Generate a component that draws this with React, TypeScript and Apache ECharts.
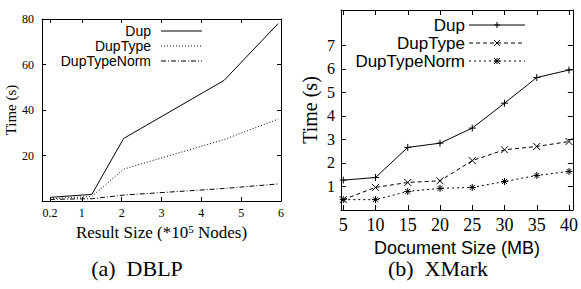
import React, { useEffect, useRef } from 'react';
import * as echarts from 'echarts';

// ---- DBLP (left panel) ----
const dblpSizes = [0.2, 1.25, 2.05, 4.57, 5.93];
const dblpDup = [1.6, 2.9, 27.5, 53, 78];
const dblpDupType = [1.0, 2.0, 14, 27, 36];
const dblpDupTypeNorm = [0.7, 1.0, 2.6, 5.5, 7.5];
const dblpXTicks = [0.2, 1, 2, 3, 4, 5, 6];

// ---- XMark (right panel) ----
const xmarkSizes = [5, 10, 15, 20, 25, 30, 35, 40];
const xmarkDup = [1.27, 1.38, 2.66, 2.84, 3.48, 4.54, 5.63, 5.95];
const xmarkDupType = [0.44, 0.96, 1.17, 1.24, 2.1, 2.56, 2.7, 2.91];
const xmarkDupTypeNorm = [0.44, 0.44, 0.79, 0.92, 0.96, 1.21, 1.47, 1.64];
const xmarkXTicks = [5, 10, 15, 20, 25, 30, 35, 40];
const xmarkYTicks = [1, 2, 3, 4, 5, 6, 7];

const seriesNames = ['Dup', 'DupType', 'DupTypeNorm'];

const SERIF = '"Liberation Serif", "Times New Roman", serif';
const SANS = '"Liberation Sans", Arial, sans-serif';
const BLACK = '#000';

const PLUS = 'path://M0,5L10,5M5,0L5,10';
const CROSS = 'path://M0,0L10,10M10,0L0,10';
const STAR = 'path://M0,5L10,5M5,0L5,10M1.5,1.5L8.5,8.5M8.5,1.5L1.5,8.5';

const pairs = (xs: number[], ys: number[]) => xs.map((x, i) => [x, ys[i]]);

const frameAxis = (extra: any) => ({
  type: 'value',
  axisLine: { show: true, onZero: false, lineStyle: { color: BLACK, width: 1 } },
  splitLine: { show: false },
  ...extra,
});

export default function App() {
  const ref = useRef<HTMLDivElement>(null);
  useEffect(() => {
    document.body.style.margin = '0';
    if (!ref.current) return;
    const chart = echarts.init(ref.current, undefined, { renderer: 'svg' });

    const lineDashes = {
      left: ['solid', [1, 2], [5, 2, 1, 2]] as any[],
      right: ['solid', [4, 3], [2, 3]] as any[],
    };
    const symbols = [PLUS, CROSS, STAR];

    const legendGraphic = (
      textRight: number,
      lineX1: number,
      lineX2: number,
      rows: number[],
      fontSize: number,
      dashes: any[],
      withMarkers: boolean
    ) => {
      const els: any[] = [];
      seriesNames.forEach((name, i) => {
        els.push({
          type: 'text',
          x: textRight,
          y: rows[i],
          style: {
            text: name,
            fontFamily: SANS,
            fontSize,
            lineHeight: fontSize,
            fill: BLACK,
            align: 'right',
            verticalAlign: 'middle',
          },
        });
        els.push({
          type: 'line',
          shape: { x1: lineX1, y1: rows[i], x2: lineX2, y2: rows[i] },
          style: {
            stroke: BLACK,
            lineWidth: 1,
            lineDash: dashes[i] === 'solid' ? null : dashes[i],
          },
        });
        if (withMarkers) {
          const cx = (lineX1 + lineX2) / 2;
          const cy = rows[i];
          const r = 3;
          const segs: number[][] = [];
          if (i === 0 || i === 2) {
            segs.push([cx - r, cy, cx + r, cy], [cx, cy - r, cx, cy + r]);
          }
          if (i === 1 || i === 2) {
            segs.push([cx - r, cy - r, cx + r, cy + r], [cx + r, cy - r, cx - r, cy + r]);
          }
          segs.forEach((s) =>
            els.push({
              type: 'line',
              shape: { x1: s[0], y1: s[1], x2: s[2], y2: s[3] },
              style: { stroke: BLACK, lineWidth: 1 },
            })
          );
        }
      });
      return els;
    };

    const option: any = {
      animation: false,
      backgroundColor: '#fff',
      grid: [
        { left: 42, top: 19, width: 239, height: 182, containLabel: false },
        { left: 341, top: 10, width: 232, height: 200, containLabel: false },
      ],
      xAxis: [
        frameAxis({
          gridIndex: 0,
          position: 'bottom',
          min: 0,
          max: 6,
          axisTick: { show: true, inside: true, length: 4, customValues: dblpXTicks, lineStyle: { color: BLACK } },
          axisLabel: {
            customValues: dblpXTicks,
            fontFamily: SERIF,
            fontSize: 12,
            color: BLACK,
            margin: 6,
          },
          name: '{a|Result Size (*10}{s|5}{a| Nodes)}',
          nameLocation: 'middle',
          nameGap: 16,
          nameTextStyle: {
            rich: {
              a: { fontFamily: SERIF, fontSize: 17, lineHeight: 17, color: BLACK, verticalAlign: 'middle' },
              s: {
                fontFamily: SERIF,
                fontSize: 11,
                lineHeight: 11,
                color: BLACK,
                verticalAlign: 'top',
                padding: [0, 0, 14, 0],
              },
            },
          },
        }),
        frameAxis({
          gridIndex: 0,
          position: 'top',
          min: 0,
          max: 6,
          axisTick: { show: true, inside: true, length: 4, customValues: dblpXTicks, lineStyle: { color: BLACK } },
          axisLabel: { show: false },
        }),
        frameAxis({
          gridIndex: 1,
          position: 'bottom',
          min: 4.65,
          max: 40.6,
          axisTick: { show: true, inside: true, length: 5, customValues: xmarkXTicks, lineStyle: { color: BLACK } },
          axisLabel: {
            customValues: xmarkXTicks,
            fontFamily: SERIF,
            fontSize: 18,
            color: BLACK,
            margin: 6,
          },
          name: 'Document Size (MB)',
          nameLocation: 'middle',
          nameGap: 18,
          nameTextStyle: { fontFamily: SANS, fontSize: 18, lineHeight: 18, color: BLACK },
        }),
        frameAxis({
          gridIndex: 1,
          position: 'top',
          min: 4.65,
          max: 40.6,
          axisTick: { show: true, inside: true, length: 5, customValues: xmarkXTicks, lineStyle: { color: BLACK } },
          axisLabel: { show: false },
        }),
      ],
      yAxis: [
        frameAxis({
          gridIndex: 0,
          position: 'left',
          min: 0,
          max: 80,
          interval: 20,
          axisTick: { show: true, inside: true, length: 4, lineStyle: { color: BLACK } },
          axisLabel: {
            fontFamily: SERIF,
            fontSize: 12,
            color: BLACK,
            margin: 8,
            formatter: (v: number) => (v === 0 ? '' : String(v)),
          },
          name: 'Time (s)',
          nameLocation: 'middle',
          nameGap: 22,
          nameTextStyle: { fontFamily: SERIF, fontSize: 15, color: BLACK },
        }),
        frameAxis({
          gridIndex: 0,
          position: 'right',
          min: 0,
          max: 80,
          interval: 20,
          axisTick: { show: true, inside: true, length: 4, lineStyle: { color: BLACK } },
          axisLabel: { show: false },
        }),
        frameAxis({
          gridIndex: 1,
          position: 'left',
          min: 0,
          max: 8.5,
          axisTick: { show: true, inside: true, length: 5, customValues: xmarkYTicks, lineStyle: { color: BLACK } },
          axisLabel: {
            customValues: xmarkYTicks,
            fontFamily: SERIF,
            fontSize: 16,
            color: BLACK,
            margin: 6,
          },
          name: 'Time (s)',
          nameLocation: 'middle',
          nameGap: 21,
          nameTextStyle: { fontFamily: SERIF, fontSize: 20, color: BLACK },
        }),
        frameAxis({
          gridIndex: 1,
          position: 'right',
          min: 0,
          max: 8.5,
          axisTick: { show: true, inside: true, length: 5, customValues: xmarkYTicks, lineStyle: { color: BLACK } },
          axisLabel: { show: false },
        }),
      ],
      series: [
        ...[dblpDup, dblpDupType, dblpDupTypeNorm].map((ys, i) => ({
          name: seriesNames[i],
          type: 'line',
          xAxisIndex: 0,
          yAxisIndex: 0,
          data: pairs(dblpSizes, ys),
          symbol: 'none',
          lineStyle: { color: BLACK, width: 1, type: lineDashes.left[i] },
          itemStyle: { color: BLACK },
        })),
        ...[xmarkDup, xmarkDupType, xmarkDupTypeNorm].map((ys, i) => ({
          name: seriesNames[i],
          type: 'line',
          xAxisIndex: 2,
          yAxisIndex: 2,
          data: pairs(xmarkSizes, ys),
          symbol: symbols[i],
          symbolSize: 7,
          showAllSymbol: true,
          lineStyle: { color: BLACK, width: 1, type: lineDashes.right[i] },
          itemStyle: { color: BLACK, borderColor: BLACK, borderWidth: 1 },
        })),
      ],
      graphic: [
        ...legendGraphic(151, 161, 202, [31, 46, 61], 14, lineDashes.left, false),
        ...legendGraphic(465, 469, 525, [25, 43, 61], 17, lineDashes.right, true),
        {
          type: 'text',
          x: 137,
          y: 268,
          style: {
            text: '(a)  DBLP',
            fontFamily: SERIF,
            fontSize: 22,
            fill: BLACK,
            align: 'center',
            verticalAlign: 'middle',
          },
        },
        {
          type: 'text',
          x: 438,
          y: 268,
          style: {
            text: '(b)  XMark',
            fontFamily: SERIF,
            fontSize: 22,
            fill: BLACK,
            align: 'center',
            verticalAlign: 'middle',
          },
        },
      ],
    };

    chart.setOption(option);
    return () => chart.dispose();
  }, []);

  return (
    <div
      ref={ref}
      style={{ position: 'absolute', left: 0, top: 0, width: 581, height: 289, background: '#fff' }}
    />
  );
}
